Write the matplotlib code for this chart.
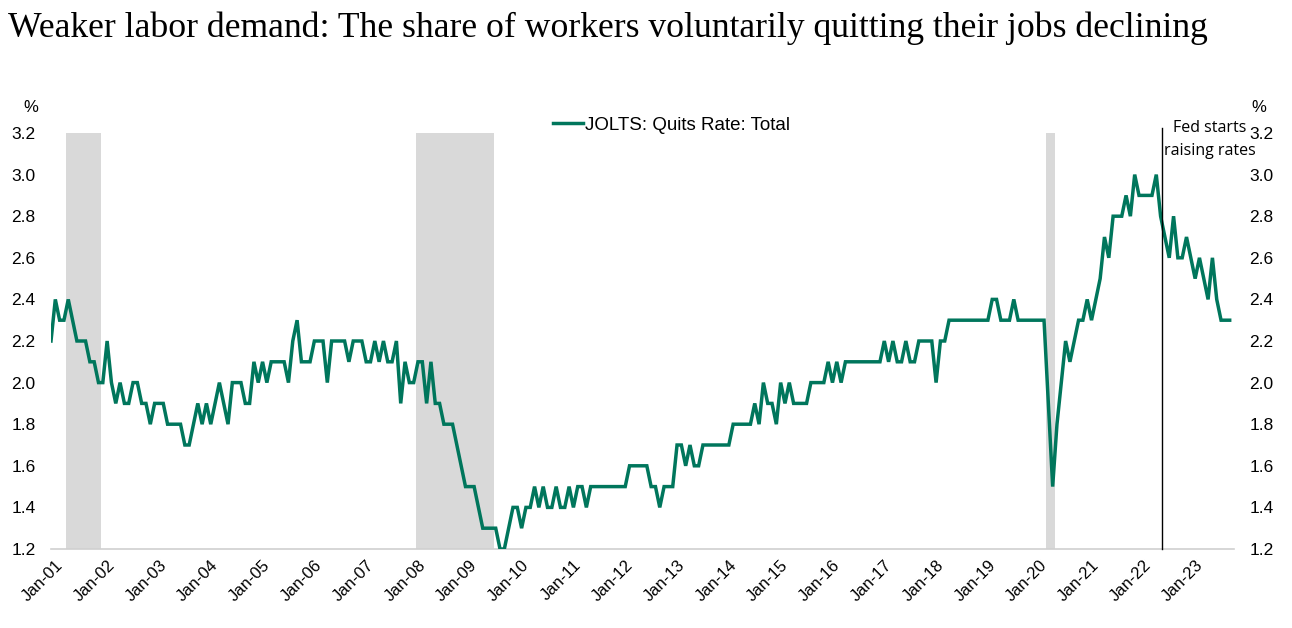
import matplotlib
matplotlib.use("Agg")
import matplotlib.pyplot as plt
import numpy as np

# ---------------- data ----------------
start_year, start_month = 2000, 12   # first observation: Dec 2000
quits_rate = [
    2.2,                                                        # Dec-00
    2.4, 2.3, 2.3, 2.4, 2.3, 2.2, 2.2, 2.2, 2.1, 2.1, 2.0, 2.0,  # 2001
    2.2, 2.0, 1.9, 2.0, 1.9, 1.9, 2.0, 2.0, 1.9, 1.9, 1.8, 1.9,  # 2002
    1.9, 1.9, 1.8, 1.8, 1.8, 1.8, 1.7, 1.7, 1.8, 1.9, 1.8, 1.9,  # 2003
    1.8, 1.9, 2.0, 1.9, 1.8, 2.0, 2.0, 2.0, 1.9, 1.9, 2.1, 2.0,  # 2004
    2.1, 2.0, 2.1, 2.1, 2.1, 2.1, 2.0, 2.2, 2.3, 2.1, 2.1, 2.1,  # 2005
    2.2, 2.2, 2.2, 2.0, 2.2, 2.2, 2.2, 2.2, 2.1, 2.2, 2.2, 2.2,  # 2006
    2.1, 2.1, 2.2, 2.1, 2.2, 2.1, 2.1, 2.2, 1.9, 2.1, 2.0, 2.0,  # 2007
    2.1, 2.1, 1.9, 2.1, 1.9, 1.9, 1.8, 1.8, 1.8, 1.7, 1.6, 1.5,  # 2008
    1.5, 1.5, 1.4, 1.3, 1.3, 1.3, 1.3, 1.2, 1.2, 1.3, 1.4, 1.4,  # 2009
    1.3, 1.4, 1.4, 1.5, 1.4, 1.5, 1.4, 1.4, 1.5, 1.4, 1.4, 1.5,  # 2010
    1.4, 1.5, 1.5, 1.4, 1.5, 1.5, 1.5, 1.5, 1.5, 1.5, 1.5, 1.5,  # 2011
    1.5, 1.6, 1.6, 1.6, 1.6, 1.6, 1.5, 1.5, 1.4, 1.5, 1.5, 1.5,  # 2012
    1.7, 1.7, 1.6, 1.7, 1.6, 1.6, 1.7, 1.7, 1.7, 1.7, 1.7, 1.7,  # 2013
    1.7, 1.8, 1.8, 1.8, 1.8, 1.8, 1.9, 1.8, 2.0, 1.9, 1.9, 1.8,  # 2014
    2.0, 1.9, 2.0, 1.9, 1.9, 1.9, 1.9, 2.0, 2.0, 2.0, 2.0, 2.1,  # 2015
    2.0, 2.1, 2.0, 2.1, 2.1, 2.1, 2.1, 2.1, 2.1, 2.1, 2.1, 2.1,  # 2016
    2.2, 2.1, 2.2, 2.1, 2.1, 2.2, 2.1, 2.1, 2.2, 2.2, 2.2, 2.2,  # 2017
    2.0, 2.2, 2.2, 2.3, 2.3, 2.3, 2.3, 2.3, 2.3, 2.3, 2.3, 2.3,  # 2018
    2.3, 2.4, 2.4, 2.3, 2.3, 2.3, 2.4, 2.3, 2.3, 2.3, 2.3, 2.3,  # 2019
    2.3, 2.3, 1.9, 1.5, 1.8, 2.0, 2.2, 2.1, 2.2, 2.3, 2.3, 2.4,  # 2020
    2.3, 2.4, 2.5, 2.7, 2.6, 2.8, 2.8, 2.8, 2.9, 2.8, 3.0, 2.9,  # 2021
    2.9, 2.9, 2.9, 3.0, 2.8, 2.7, 2.6, 2.8, 2.6, 2.6, 2.7, 2.6,  # 2022
    2.5, 2.6, 2.5, 2.4, 2.6, 2.4, 2.3, 2.3, 2.3,                 # 2023 (to Sep)
]
series_label = "JOLTS: Quits Rate: Total"
recessions = [("2001-04", "2001-11"), ("2008-01", "2009-06"), ("2020-03", "2020-04")]
fed_hike_month = 257.3           # month index of "Fed starts raising rates" marker
tick_years = list(range(2001, 2024))
y_ticks = [1.2, 1.4, 1.6, 1.8, 2.0, 2.2, 2.4, 2.6, 2.8, 3.0, 3.2]
title = "Weaker labor demand: The share of workers voluntarily quitting their jobs declining"


def month_index(ym):
    y, m = map(int, ym.split("-"))
    return (y - start_year) * 12 + (m - start_month)


# ---------------- figure ----------------
W, H = 1292, 628
fig = plt.figure(figsize=(W / 100, H / 100), dpi=100)
fig.patch.set_facecolor("white")
L, R, B, T = 51, 1234, 549, 133
ax = fig.add_axes([L / W, 1 - B / H, (R - L) / W, (B - T) / H])

x = np.arange(len(quits_rate))
green = "#00765C"
sans = "Liberation Sans"

for s, e in recessions:
    ax.axvspan(month_index(s) - 0.5, month_index(e) + 0.5, color="#D9D9D9", lw=0, zorder=0)

line, = ax.plot(x, quits_rate, color=green, lw=2.5, solid_joinstyle="miter", zorder=3,
                label=series_label)

ax.set_xlim(0, 274)
ax.set_ylim(1.2, 3.2)

# Fed line
ax.plot([fed_hike_month, fed_hike_month], [1.2, 3.225], color="black", lw=1.0,
        clip_on=False, zorder=4)
ax.text(fed_hike_month + 11, 3.168, "Fed starts\nraising rates", ha="center", va="center",
        fontsize=11.5, family="Open Sans", linespacing=1.55, zorder=5)

# axes styling
for sp in ["left", "right", "top"]:
    ax.spines[sp].set_visible(False)
ax.spines["bottom"].set_color("#D0D0D0")
ax.spines["bottom"].set_linewidth(1.2)

ax.set_yticks(y_ticks)
ax.set_yticklabels([f"{v:.1f}" for v in y_ticks], family=sans, fontsize=12.5)
ax.tick_params(axis="y", length=0, pad=11, labelright=True, labelleft=True)

tick_pos = [month_index(f"{yr}-01") for yr in tick_years]
ax.set_xticks(tick_pos)
ax.set_xticklabels([f"Jan-{yr % 100:02d}" for yr in tick_years], rotation=45,
                   ha="right", va="top", rotation_mode="anchor", family=sans, fontsize=12)
ax.tick_params(axis="x", length=0, pad=6)

# % labels
fig.text(31 / W, 1 - 108 / H, "%", ha="center", va="center", family=sans, fontsize=12)
fig.text(1259 / W, 1 - 108 / H, "%", ha="center", va="center", family=sans, fontsize=12)

# legend
leg = fig.legend(handles=[line], loc="center left", bbox_to_anchor=(553 / W, 1 - 125 / H),
                 frameon=False, prop={"family": sans, "size": 13.5}, handlelength=1.6,
                 handletextpad=0.1, borderaxespad=0, borderpad=0)

# title
fig.text(8 / W, 1 - 37 / H, title, ha="left", va="baseline", family="Liberation Serif",
         fontsize=25.7)

fig.savefig("out.png", dpi=100, facecolor="white")
